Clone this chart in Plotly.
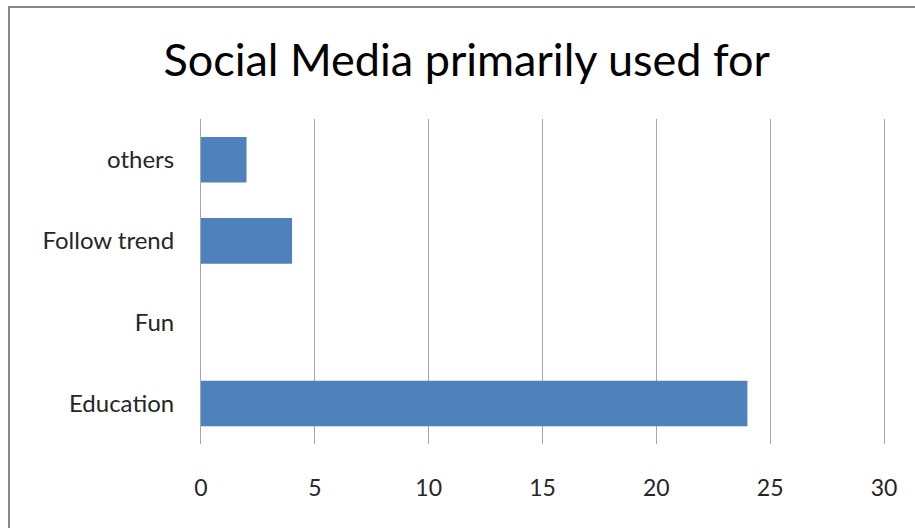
import plotly.graph_objects as go

categories = ["Education", "Fun", "Follow trend", "others"]
counts = [24, 0, 4, 2]
x_ticks = [0, 5, 10, 15, 20, 25, 30]

BAR_COLOR = "#4F81BD"
GRID_COLOR = "#A6A6A6"
FONT = "Lato, Calibri, Carlito, sans-serif"

fig = go.Figure(
    go.Bar(
        y=categories,
        x=counts,
        orientation="h",
        marker=dict(color=BAR_COLOR, line=dict(width=0)),
        width=0.56,
    )
)

W, H = 915, 528
ml, mr, mt, mb = 201, 31, 119, 84
pw, ph = W - ml - mr, H - mt - mb

def px_to_paper_x(px):
    return (px - ml) / pw

def px_to_paper_y(py):
    return (H - mb - py) / ph

fig.update_layout(
    width=W,
    height=H,
    margin=dict(l=ml, r=mr, t=mt, b=mb),
    paper_bgcolor="white",
    plot_bgcolor="white",
    showlegend=False,
    font=dict(family=FONT, color="#262626", size=24),
    title=dict(
        text="Social Media primarily used for",
        x=0.51,
        xanchor="center",
        y=1 - 60 / H,
        yanchor="middle",
        font=dict(family=FONT, size=45, color="#000000"),
    ),
    xaxis=dict(
        range=[0, 30],
        tickvals=x_ticks,
        ticktext=[str(v) for v in x_ticks],
        showgrid=True,
        gridcolor=GRID_COLOR,
        gridwidth=1,
        zeroline=False,
        showline=False,
        ticks="",
        ticklabelstandoff=28,
        tickfont=dict(size=23),
        fixedrange=True,
    ),
    yaxis=dict(
        categoryorder="array",
        categoryarray=categories,
        showgrid=False,
        zeroline=False,
        # vertical lines at x = 0 and x = 30 framing the plot area
        showline=True,
        mirror=True,
        linecolor=GRID_COLOR,
        linewidth=1,
        ticks="",
        ticklabelstandoff=21,
        tickfont=dict(size=24),
        fixedrange=True,
    ),
    bargap=0.44,
    shapes=[
        # outer chart frame (runs off the right and bottom edges)
        dict(
            type="rect",
            xref="paper",
            yref="paper",
            x0=px_to_paper_x(9),
            x1=px_to_paper_x(930),
            y0=px_to_paper_y(540),
            y1=px_to_paper_y(7),
            line=dict(color="#868686", width=2),
            fillcolor="rgba(0,0,0,0)",
            layer="below",
        ),
    ],
)

fig.write_html("out.html")
